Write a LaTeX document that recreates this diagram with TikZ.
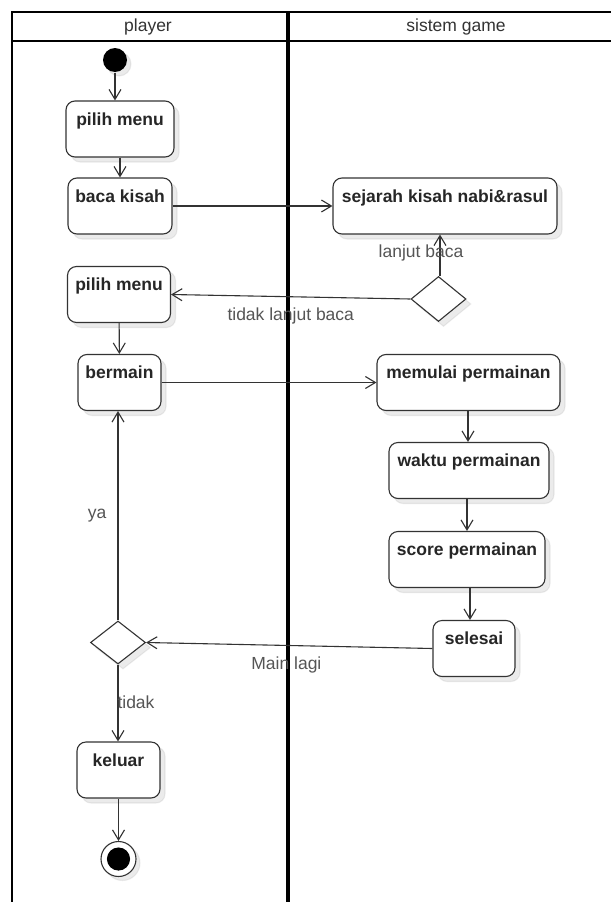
\documentclass[tikz,border=0pt]{standalone}
\usepackage{fontspec}
\setmainfont{Liberation Sans}
\usepackage{xcolor}
\usepackage{tikz}
\usetikzlibrary{shapes}
\usetikzlibrary{shapes.geometric}
\usetikzlibrary{arrows.meta}
\usetikzlibrary{shadows}
\definecolor{linegray}{HTML}{333333}
\definecolor{labelgray}{HTML}{555555}
\tikzset{
	act node/.style={rectangle,rounded corners=9pt,draw=linegray,line width=1.1pt,fill=white,
		font=\fontsize{17.5}{20}\selectfont\bfseries,text=black!85,
		inner xsep=2pt,inner ysep=4pt,text height=20pt,text depth=28pt,
		drop shadow={shadow xshift=5pt,shadow yshift=-5pt,fill=black,opacity=0.08}},
	choice/.style={diamond,draw=linegray,line width=1.1pt,fill=white,inner sep=0pt,
		minimum width=55pt,minimum height=45pt,
		drop shadow={shadow xshift=5pt,shadow yshift=-5pt,fill=black,opacity=0.08}},
	guard/.style={font=\fontsize{17.5}{20}\selectfont,text=labelgray,inner sep=0pt},
	lane/.style={font=\fontsize{17.5}{20}\selectfont,text=black!80}
}

\begin{document}
\begin{tikzpicture}[x=1pt,y=-1pt,->,>={Straight Barb[length=10pt,width=12pt]},
	    every path/.style={draw=linegray,line width=1.1pt}]
	    \useasboundingbox[draw=none,fill=white] (0,0) rectangle (611,902);
	    % swimlanes
	    \draw[-,draw=black,line width=2pt] (12,902) -- (12,12) -- (611,12);
	    \draw[-,draw=black,line width=2pt] (12,41) -- (611,41);
	    \draw[-,draw=black,line width=4.5pt] (288,12) -- (288,902);
	    \node [lane] (player) at (148,27) {player};
	    \node [lane] (sistem) at (456,27) {sistem game};
	    % player side
	    \node [circle,fill=black,minimum size=24pt,inner sep=0pt,
	      drop shadow={shadow xshift=4pt,shadow yshift=-4pt,fill=black,opacity=0.08}] (start) at (115,60) {};
	    \node [act node,minimum width=108pt] (menu1) at (120,129) {pilih menu};
	    \node [act node,minimum width=104pt] (baca) at (120,206) {baca kisah};
	    \node [act node,minimum width=103pt] (menu2) at (119,294.5) {pilih menu};
	    \node [act node,minimum width=83pt] (main) at (119.5,382.5) {bermain};
	    \node [choice,minimum height=43pt] (again) at (118,642.5) {};
	    \node [act node,minimum width=83pt] (keluar) at (118.5,770) {keluar};
	    \node [circle,draw=linegray,line width=1.1pt,fill=white,minimum size=35pt,inner sep=0pt,
	      drop shadow={shadow xshift=4pt,shadow yshift=-4pt,fill=black,opacity=0.08}] (end) at (118.5,859) {};
	    \fill[black] (end.center) circle[radius=11pt];
	    % game side
	    \node [act node,minimum width=224pt] (kisah) at (445,206) {sejarah kisah nabi\&rasul};
	    \node [choice] (lanjut) at (438.5,299) {};
	    \node [act node,minimum width=183pt] (mulai) at (468.5,382.5) {memulai permainan};
	    \node [act node,minimum width=160pt] (waktu) at (469,470.5) {waktu permainan};
	    \node [act node,minimum width=156pt] (score) at (467,559.5) {score permainan};
	    \node [act node,minimum width=82pt] (selesai) at (474,648.5) {selesai};
	    % flows
	    \draw (start) -- (start |- menu1.north);
	    \draw (menu1) -- (baca);
	    \draw (baca) -- (kisah);
	    \draw (lanjut.north -| 440,0) -- (kisah.south -| 440,0)
	      node [guard,pos=.55,xshift=-19pt] {lanjut baca};
	    \draw (lanjut.west) -- (menu2.east)
	      node [guard,pos=.5,yshift=-19pt] {tidak lanjut baca};
	    \draw (menu2) -- (main);
	    \draw (main) -- (mulai);
	    \draw (mulai.south -| 468,0) -- (waktu.north -| 468,0);
	    \draw (waktu.south -| 467,0) -- (score.north -| 467,0);
	    \draw (score.south -| 470,0) -- (selesai.north -| 470,0);
	    \draw (selesai.west) -- (again.east)
	      node [guard,pos=.51,yshift=-20pt] {Main lagi};
	    \draw (again) -- (again |- main.south)
	      node [guard,pos=.5,xshift=-21pt] {ya};
	    \draw (again) -- (again |- keluar.north)
	      node [guard,pos=.49,xshift=18pt] {tidak};
	    \draw (keluar) -- (end);
	  \end{tikzpicture}
\end{document}
